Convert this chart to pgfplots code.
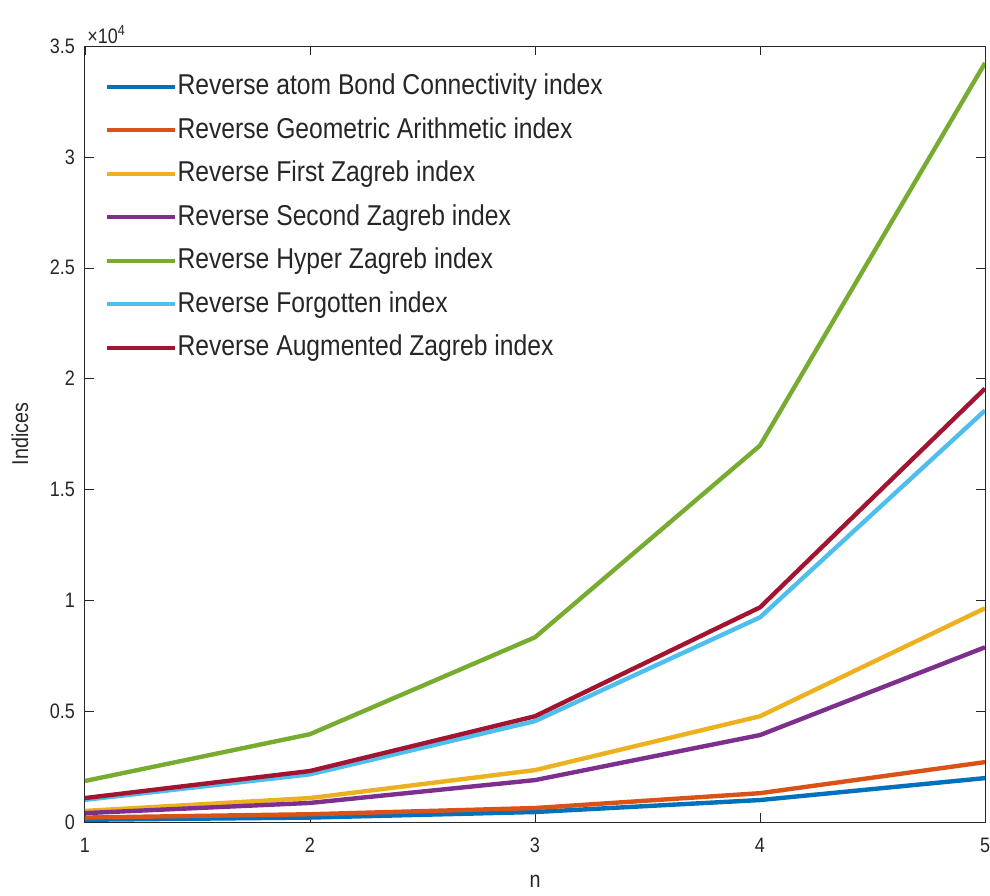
\documentclass[border=0pt]{standalone}
\usepackage{fontspec}
\setmainfont{Liberation Sans}[FakeStretch=0.86]
\usepackage{pgfplots}
\pgfplotsset{compat=1.18}
\definecolor{c1}{rgb}{0,0.447,0.741}
\definecolor{c2}{rgb}{0.85,0.325,0.098}
\definecolor{c3}{rgb}{0.929,0.694,0.125}
\definecolor{c4}{rgb}{0.494,0.184,0.556}
\definecolor{c5}{rgb}{0.466,0.674,0.188}
\definecolor{c6}{rgb}{0.301,0.745,0.933}
\definecolor{c7}{rgb}{0.635,0.078,0.184}
\definecolor{txt}{rgb}{0.15,0.15,0.15}
\begin{document}
\begin{tikzpicture}
\begin{axis}[
  scale only axis,
  width=450bp, height=388bp,
  xmin=1, xmax=5, ymin=0, ymax=35000,
  xtick={1,2,3,4,5},
  ytick={0,5000,10000,15000,20000,25000,30000,35000},
  yticklabels={0,0.5,1,1.5,2,2.5,3,3.5},
  scaled y ticks=false,
  /pgf/number format/assume math mode=true,
  tick label style={font=\fontsize{10.5}{12}\selectfont, text=txt},
  xticklabel style={yshift=-4.5bp},
  yticklabel style={xshift=-1.5bp},
  tick align=inside,
  major tick length=4.5bp,
  axis line style={txt, line width=0.5pt},
  tick style={txt},
  xlabel={n}, ylabel={Indices},
  label style={font=\fontsize{11.5}{13}\selectfont, text=txt},
  xlabel style={yshift=-4.5bp},
  ylabel style={yshift=4bp},
  legend cell align=left,
  legend style={draw=none, fill=none, at={(rel axis cs:0.022,0.966)}, anchor=north west,
    font=\fontsize{14.4}{16}\selectfont, row sep=7.75bp, inner sep=0pt,
    nodes={inner sep=0pt, text height=11bp, text depth=3bp, text=txt}},
  legend image code/.code={\draw[#1] (0bp,0bp) -- (34bp,0bp);},
  every axis plot/.append style={line width=2.2bp},
  after end axis/.code={
    \node[anchor=south west, inner sep=1pt, font=\fontsize{10.5}{12}\selectfont, text=txt] at (rel axis cs:0,1) {×10\textsuperscript{4}};
    \coordinate (O) at (rel axis cs:0,0);
    \coordinate (T) at (rel axis cs:1,1);
  },
]
\addplot[c1] coordinates {(1,100) (2,200) (3,450) (4,990) (5,1980)};
\addlegendentry{Reverse atom Bond Connectivity index}
\addplot[c2] coordinates {(1,200) (2,350) (3,630) (4,1300) (5,2700)};
\addlegendentry{Reverse Geometric Arithmetic index}
\addplot[c3] coordinates {(1,500) (2,1080) (3,2340) (4,4770) (5,9640)};
\addlegendentry{Reverse First Zagreb index}
\addplot[c4] coordinates {(1,400) (2,860) (3,1890) (4,3920) (5,7880)};
\addlegendentry{Reverse Second Zagreb index}
\addplot[c5] coordinates {(1,1850) (2,3960) (3,8330) (4,16980) (5,34230)};
\addlegendentry{Reverse Hyper Zagreb index}
\addplot[c6] coordinates {(1,1000) (2,2150) (3,4550) (4,9230) (5,18560)};
\addlegendentry{Reverse Forgotten index}
\addplot[c7] coordinates {(1,1080) (2,2300) (3,4770) (4,9680) (5,19550)};
\addlegendentry{Reverse Augmented Zagreb index}
\end{axis}
\pgfresetboundingbox
\path[use as bounding box] ([shift={(-42.5bp,-37bp)}]O) rectangle ([shift={(2.5bp,23bp)}]T);
\end{tikzpicture}
\end{document}
